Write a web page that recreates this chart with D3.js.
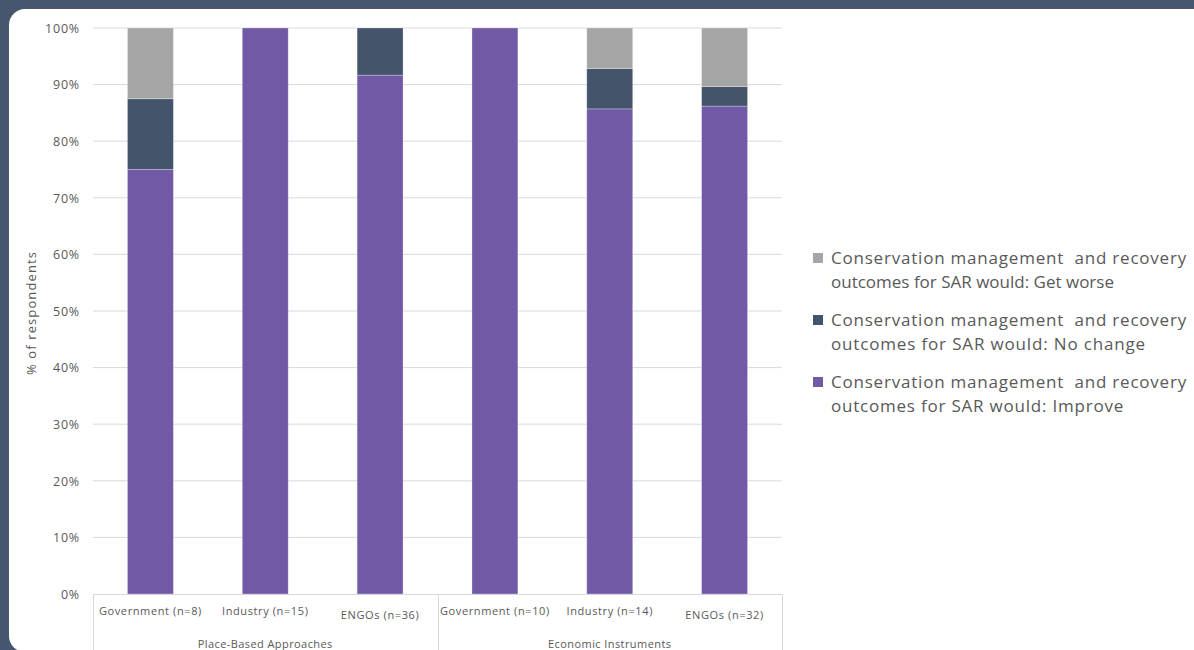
<!DOCTYPE html>
<html>
<head>
<meta charset="utf-8">
<script src="https://cdn.jsdelivr.net/npm/d3@7"></script>
<style>
  html, body { margin: 0; padding: 0; background: #46566f; }
  svg { display: block; }
  text { font-family: "Open Sans", Lato, sans-serif; }
</style>
</head>
<body>
<svg id="chart" width="1194" height="650"></svg>
<script>
// Respondent groups and their policy-approach families
const categories = ["Government (n=8)", "Industry (n=15)", "ENGOs (n=36)",
                    "Government (n=10)", "Industry (n=14)", "ENGOs (n=32)"];
const groups = ["Place-Based Approaches", "Economic Instruments"];
const groupOf = [0, 0, 0, 1, 1, 1];

// Share of respondents (%) for each expected outcome
const improve   = [75.0, 100, 91.67, 100, 85.71, 86.2];
const noChange  = [12.5, 0,   8.33,  0,   7.14,  3.45];
const getWorse  = [12.5, 0,   0,     0,   7.15,  10.35];

const seriesNames = [
  "Conservation management  and recovery outcomes for SAR would: Improve",
  "Conservation management  and recovery outcomes for SAR would: No change",
  "Conservation management  and recovery outcomes for SAR would: Get worse"
];
const legendLines = [
  ["Conservation management  and recovery", "outcomes for SAR would: Get worse"],
  ["Conservation management  and recovery", "outcomes for SAR would: No change"],
  ["Conservation management  and recovery", "outcomes for SAR would: Improve"]
];
const legendLineWidths = [[356, 282], [356, 315], [356, 293]];
const yTicks = [0, 10, 20, 30, 40, 50, 60, 70, 80, 90, 100];

const colors = ["#7159a6", "#44546a", "#a5a5a5"];
const textColor = "#595959";

const svg = d3.select("#chart");

// widen tracking so a reference string spans the wanted width; same spacing for the whole set
function track(sel, sampleNode, width) {
  const n = sampleNode.getNumberOfChars();
  const natural = sampleNode.getComputedTextLength();
  const ls = Math.max(0, (width - natural) / n);
  sel.attr("letter-spacing", ls.toFixed(3));
}

// white rounded panel
svg.append("rect")
  .attr("x", 9).attr("y", 9).attr("width", 1230).attr("height", 643)
  .attr("rx", 16).attr("fill", "#ffffff");

const plotLeft = 93, plotRight = 782, plotTop = 28, plotBottom = 594;

const x = d3.scaleBand().domain(d3.range(categories.length))
  .range([plotLeft, plotRight]).paddingInner(0.6).paddingOuter(0.3);
const y = d3.scaleLinear().domain([0, 100]).range([plotBottom, plotTop]);

// gridlines
svg.append("g").selectAll("line").data(yTicks.filter(d => d > 0)).join("line")
  .attr("x1", plotLeft).attr("x2", plotRight)
  .attr("y1", d => y(d)).attr("y2", d => y(d))
  .attr("stroke", "#d9d9d9").attr("stroke-width", 1);

// y axis labels
const yAxis = d3.axisLeft(y).tickValues(yTicks).tickFormat(d => d + "%").tickSize(0).tickPadding(0);
const gy = svg.append("g").attr("transform", `translate(80,0)`).call(yAxis);
gy.select(".domain").remove();
const yLabels = gy.selectAll("text").attr("fill", textColor).attr("font-size", 12.5)
  .attr("font-family", "'Open Sans', Lato, sans-serif").attr("dy", "0.35em");
track(yLabels, yLabels.filter(d => d === 100).node(), 35);

const yTitle = svg.append("text")
  .attr("transform", `translate(36,${(plotTop + plotBottom) / 2 + 2}) rotate(-90)`)
  .attr("text-anchor", "middle").attr("fill", textColor).attr("font-size", 13)
  .text("% of respondents");
track(yTitle, yTitle.node(), 124);

// stacked bars
const rows = categories.map((c, i) => ({ i, improve: improve[i], noChange: noChange[i], getWorse: getWorse[i] }));
const stack = d3.stack().keys(["improve", "noChange", "getWorse"]);
const layers = stack(rows);

svg.append("g").selectAll("g").data(layers).join("g")
  .attr("fill", (d, k) => colors[k])
  .selectAll("rect").data(d => d.filter(s => s[1] - s[0] > 0)).join("rect")
  .attr("x", d => x(d.data.i))
  .attr("width", x.bandwidth())
  .attr("y", d => y(d[1]))
  .attr("height", d => y(d[0]) - y(d[1]))
  .attr("stroke", "#ffffff").attr("stroke-opacity", 0.35).attr("stroke-width", 0.8);

// multi-level category axis
const axisColor = "#d9d9d9";
svg.append("line").attr("x1", plotLeft).attr("x2", plotRight)
  .attr("y1", plotBottom + 0.5).attr("y2", plotBottom + 0.5).attr("stroke", axisColor);
const dividers = [plotLeft, (x(2) + x.bandwidth() + x(3)) / 2, plotRight];
svg.append("g").selectAll("line").data(dividers).join("line")
  .attr("x1", d => Math.round(d) + 0.5).attr("x2", d => Math.round(d) + 0.5)
  .attr("y1", plotBottom).attr("y2", 660).attr("stroke", axisColor);

const catLabels = svg.append("g").selectAll("text").data(categories).join("text")
  .attr("x", (d, i) => x(i) + x.bandwidth() / 2)
  .attr("y", (d, i) => d.startsWith("ENGOs") ? 619 : 615)
  .attr("text-anchor", "middle").attr("fill", textColor).attr("font-size", 11)
  .text(d => d);
track(catLabels, catLabels.nodes()[0], 103);

const groupLabels = svg.append("g").selectAll("text").data(groups).join("text")
  .attr("x", (d, g) => {
    const idx = d3.range(categories.length).filter(i => groupOf[i] === g);
    return (x(idx[0]) + x(idx[idx.length - 1]) + x.bandwidth()) / 2;
  })
  .attr("y", 648).attr("text-anchor", "middle").attr("fill", textColor).attr("font-size", 11)
  .text(d => d);
track(groupLabels, groupLabels.nodes()[0], 135);

// legend
const legendOrder = [2, 1, 0];
const lg = svg.append("g").selectAll("g").data(legendOrder).join("g")
  .attr("transform", (d, k) => `translate(813,${253 + k * 62})`);
lg.append("rect").attr("width", 10).attr("height", 10).attr("fill", d => colors[d]);
lg.each(function(d, k) {
  const t = d3.select(this).append("text")
    .attr("fill", textColor).attr("font-size", 17)
    .attr("x", 18).attr("y", 11).attr("aria-label", seriesNames[d]);
  legendLines[k].forEach((line, j) => {
    const ts = t.append("tspan").attr("x", 18).attr("dy", j === 0 ? 0 : 24)
      .attr("xml:space", "preserve").style("white-space", "pre").text(line);
    track(ts, ts.node(), legendLineWidths[k][j]);
  });
});
</script>
</body>
</html>
